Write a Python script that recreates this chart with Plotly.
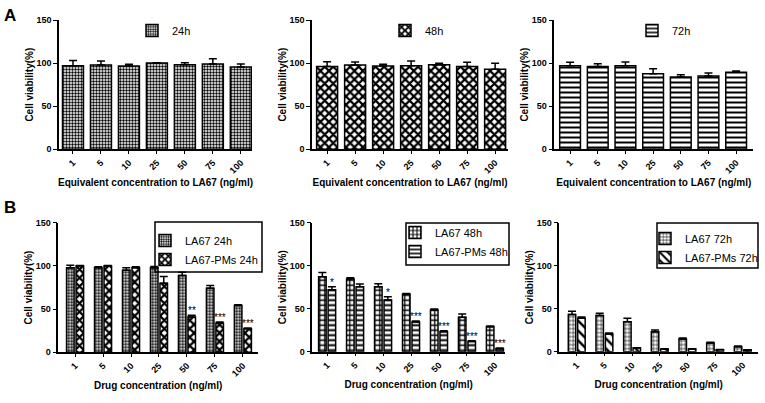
import plotly.graph_objects as go

# ---------------- data ----------------
categories = ["1", "5", "10", "25", "50", "75", "100"]

top24_mean = [97, 97.8, 96.6, 100, 98, 99, 95.5]
top24_err = [6, 4.6, 2, 0.5, 2.5, 6, 3.5]
top48_mean = [96.2, 97.8, 96.6, 97, 98.2, 96.2, 92.8]
top48_err = [5.5, 3.5, 2, 5.4, 1.5, 4.8, 6.9]
top72_mean = [97, 96.2, 97, 87.7, 84, 85, 89.3]
top72_err = [4, 3.1, 4.3, 5.8, 2.6, 3.5, 1.5]

b24_la67_mean = [98, 98, 95, 98, 88.8, 74.2, 54.2]
b24_la67_err = [2.8, 1, 3, 1.2, 3.9, 3.1, 0.8]
b24_pms_mean = [100, 100, 98, 80, 40.8, 33.5, 27.3]
b24_pms_err = [0.5, 0.5, 1, 7.7, 2.2, 1.5, 0.7]
b24_sig = ["", "", "", "", "**", "***", "***"]

b48_la67_mean = [87.2, 84.5, 75.6, 66.7, 48.4, 40, 29]
b48_la67_err = [5, 1.5, 3.4, 1.1, 1.2, 3.8, 0.8]
b48_pms_mean = [72, 75.6, 60, 34.5, 23.3, 12, 3.5]
b48_pms_err = [3.6, 3.1, 4, 1.1, 1.1, 0.8, 0.8]
b48_sig = ["*", "", "*", "***", "***", "***", "***"]

b72_la67_mean = [43.4, 42.2, 34.9, 23.3, 14.7, 10, 5.8]
b72_la67_err = [3.5, 2.4, 3.9, 1.9, 1.2, 0.9, 0.8]
b72_pms_mean = [38.8, 20.5, 4.3, 3.1, 3.1, 2.3, 1.9]
b72_pms_err = [1.5, 1.2, 0.4, 0.3, 0.3, 0.3, 0.3]
b72_sig = ["", "", "", "", "", "", ""]

top_xtitle = "Equivalent concentration to LA67 (ng/ml)"
bottom_xtitle = "Drug concentration (ng/ml)"
ytitle = "Cell viability(%)"

# ---------------- styling ----------------
W, H = 765, 403
FONT = "Liberation Sans, Arial, sans-serif"
xpos = list(range(len(categories)))


def pat(shape, size, solidity):
    return dict(shape=shape, size=size, solidity=solidity,
                fgcolor="black", bgcolor="white", fillmode="replace")


def px_x(a, b):
    return [a / W, b / W]


def px_y(top, bottom):
    return [1 - bottom / H, 1 - top / H]


panels = [
    # (x domain px, y domain px, x range)
    ((59, 252), (20, 149.3), (-0.5, 6.4)),
    ((312, 508), (20, 149.3), (-0.54, 6.46)),
    ((554.3, 753.3), (20, 149.3), (-0.57, 6.62)),
    ((58.3, 258), (222.7, 352.3), (-0.6, 6.54)),
    ((312.3, 505), (222.7, 351.7), (-0.53, 6.36)),
    ((559.3, 758), (222.7, 351.7), (-0.63, 6.55)),
]

fig = go.Figure()

err_style = dict(type="data", symmetric=False, color="black", thickness=1.5, width=4)


def add_bar(idx, name, mean, err, pattern, offset, width, legend):
    ax = "" if idx == 1 else str(idx)
    fig.add_trace(go.Bar(
        x=xpos, y=mean, name=name,
        width=width, offset=offset,
        marker=dict(color="white", pattern=pattern,
                    line=dict(color="black", width=1.5)),
        error_y=dict(array=err, arrayminus=[0] * len(err), **err_style),
        xaxis="x" + ax, yaxis="y" + ax,
        legend=legend, showlegend=True,
    ))


P24 = pat(".", 3, 0.5)
PX = pat("x", 6, 0.6)
PH = pat("-", 5, 0.4)

# top row
add_bar(1, "24h", top24_mean, top24_err, P24, -0.375, 0.75, "legend")
add_bar(2, "48h", top48_mean, top48_err, PX, -0.375, 0.75, "legend2")
add_bar(3, "72h", top72_mean, top72_err, PH, -0.375, 0.75, "legend3")

# bottom row
bw = 0.27
add_bar(4, "LA67 24h", b24_la67_mean, b24_la67_err, P24, -0.305, bw, "legend4")
add_bar(4, "LA67-PMs 24h", b24_pms_mean, b24_pms_err, PX, 0.035, bw, "legend4")
add_bar(5, "LA67 48h", b48_la67_mean, b48_la67_err, pat("+", 5, 0.45), -0.305, bw, "legend5")
add_bar(5, "LA67-PMs 48h", b48_pms_mean, b48_pms_err, PH, 0.035, bw, "legend5")
add_bar(6, "LA67 72h", b72_la67_mean, b72_la67_err, pat("+", 4, 0.3), -0.305, bw, "legend6")
add_bar(6, "LA67-PMs 72h", b72_pms_mean, b72_pms_err, pat("\\", 7, 0.35), 0.035, bw, "legend6")

layout = dict(
    width=W, height=H,
    margin=dict(l=0, r=0, t=0, b=0, autoexpand=False),
    paper_bgcolor="white", plot_bgcolor="white",
    font=dict(family=FONT, color="black", size=10),
    barmode="overlay",
)

tickfont = dict(family=FONT, size=9, color="black", weight="bold")
titlefont = dict(family=FONT, size=10, color="black", weight="bold")

for i, (xd, yd, xr) in enumerate(panels, start=1):
    ax = "" if i == 1 else str(i)
    layout["xaxis" + ax] = dict(
        domain=px_x(*xd), range=list(xr), anchor="y" + ax, automargin=False,
        tickmode="array", tickvals=xpos, ticktext=categories, tickangle=-45,
        showline=True, linecolor="black", linewidth=1.5,
        ticks="outside", ticklen=3, tickwidth=1.2, tickcolor="black",
        showgrid=False, zeroline=False, tickfont=tickfont,
        title=dict(text=top_xtitle if i <= 3 else bottom_xtitle, font=titlefont, standoff=4),
    )
    layout["yaxis" + ax] = dict(
        domain=px_y(*yd), range=[0, 150], anchor="x" + ax, automargin=False,
        tickvals=[0, 50, 100, 150],
        showline=True, linecolor="black", linewidth=1.5,
        ticks="outside", ticklen=4, tickwidth=1.2, tickcolor="black",
        showgrid=False, zeroline=False, tickfont=tickfont,
        title=dict(text=ytitle, font=titlefont, standoff=1),
    )

leg_common = dict(font=dict(family=FONT, size=11, color="black"),
                  bgcolor="rgba(255,255,255,0)", xanchor="left", yanchor="top",
                  itemwidth=30, itemclick=False, itemdoubleclick=False, borderwidth=0)
layout["legend"] = dict(x=132 / W, y=1 - 16 / H, **leg_common)
layout["legend2"] = dict(x=385 / W, y=1 - 16 / H, **leg_common)
layout["legend3"] = dict(x=632 / W, y=1 - 16 / H, **leg_common)
layout["legend4"] = dict(x=145 / W, y=1 - 226 / H, **leg_common)
layout["legend5"] = dict(x=395 / W, y=1 - 218 / H, **leg_common)
layout["legend6"] = dict(x=645 / W, y=1 - 224 / H, **leg_common)

# legend frames (bottom row)
frames = [(155, 222, 262, 272), (406, 223, 509, 265), (657, 223, 758, 268)]
layout["shapes"] = [dict(type="rect", xref="paper", yref="paper",
                         x0=a / W, x1=c / W, y0=1 - d / H, y1=1 - b / H,
                         line=dict(color="black", width=1.5), fillcolor="rgba(0,0,0,0)")
                    for a, b, c, d in frames]

fig.update_layout(**layout)

# significance stars above the PMs bars
for idx, means, errs, sigs in [(4, b24_pms_mean, b24_pms_err, b24_sig),
                               (5, b48_pms_mean, b48_pms_err, b48_sig),
                               (6, b72_pms_mean, b72_pms_err, b72_sig)]:
    ax = str(idx)
    for k, s in enumerate(sigs):
        if s:
            fig.add_annotation(x=xpos[k] + 0.17, y=means[k] + errs[k], xref="x" + ax, yref="y" + ax,
                               text=s, showarrow=False, yanchor="bottom", yshift=-3,
                               font=dict(family=FONT, size=10, color="black"))

# panel letters
fig.add_annotation(x=2 / W, y=1 - 4 / H, xref="paper", yref="paper", text="A", showarrow=False,
                   xanchor="left", yanchor="top", font=dict(family=FONT, size=17, color="black", weight="bold"))
fig.add_annotation(x=2 / W, y=1 - 196 / H, xref="paper", yref="paper", text="B", showarrow=False,
                   xanchor="left", yanchor="top", font=dict(family=FONT, size=17, color="black", weight="bold"))

fig.write_html("out.html", config={"displayModeBar": False},
               post_script="document.body.style.margin='0px';document.body.style.overflow='hidden';")
